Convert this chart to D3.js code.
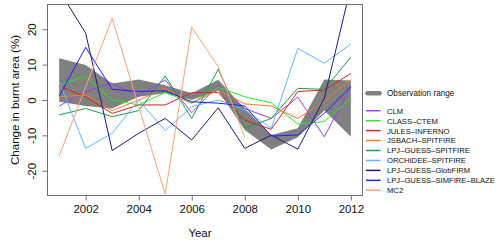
<!DOCTYPE html>
<html lang="en">
<head>
<meta charset="utf-8">
<title>Change in burnt area</title>
<script src="https://d3js.org/d3.v7.min.js"></script>
<style>
body { margin: 0; background: #fff; font-family: "Liberation Sans", Arial, sans-serif; }
</style>
</head>
<body>
<div id="vis"></div>
<script>

/* Data */
/* ==== */

var years = d3.range(2001, 2013);

var obsUpper = [11.8, 9.9, 4.7, 5.8, 4.2, 1.9, 5.7, -2.5, -9.9, -8.0, 5.8, 5.5];
var obsLower = [-0.5, -1.7, -2.4, 0.9, 1.9, 0.0, 2.6, -8.5, -14.0, -10.5, -3.0, -10.4];

var modelNames = ['CLM', 'CLASS–CTEM', 'JULES–INFERNO', 'JSBACH–SPITFIRE',
  'LPJ–GUESS–SPITFIRE', 'ORCHIDEE–SPITFIRE', 'LPJ–GUESS–GlobFIRM',
  'LPJ–GUESS–SIMFIRE–BLAZE', 'MC2'];

var modelColors = ['#a03ef0', '#22ee22', '#dd1f1f', '#f07a2a',
  '#1f9a4f', '#63b8ff', '#1c1c78', '#1f1fff', '#ffa07a'];

var clm      = [-1.7, 2.4, 4.7, 1.1, 5.7, -3.6, 4.2, -2.4, -5.2, 0.8, -10.4, 3.8];
var classCtem = [4.2, 6.8, 0.0, -1.4, 2.1, -0.9, 3.6, 0.9, -0.8, -6.8, -6.1, 0.5];
var jules    = [4.0, 0.9, -3.8, -1.4, -1.4, 2.1, 2.1, -5.7, -8.3, 2.4, 2.8, 7.5];
var jsbach   = [0.9, 1.4, -3.0, 0.0, 3.3, -0.9, 2.8, -1.1, -1.7, -5.2, -0.5, 5.8];
var lpjSpit  = [-4.2, -2.4, -4.7, -3.0, 6.8, -5.2, 8.7, -8.0, -5.2, 3.3, 3.0, 12.1];
var orchidee = [5.2, -13.7, -9.4, 0.0, -8.7, -1.9, 0.0, -2.8, -8.0, 14.6, 10.4, 15.8];
var globfirm = [31.0, 18.9, -14.3, -9.4, -5.2, -11.3, -2.2, -13.7, -9.9, -13.9, 0.5, 32.0];
var simfire  = [1.1, 14.9, 3.0, 2.4, 2.6, -0.5, -0.9, -1.7, -10.2, -9.9, -3.8, 3.8];
var mc2      = [-15.8, 3.7, 23.1, -1.8, -26.6, 20.6, 9.4, -10.6];

var modelValues = [clm, classCtem, jules, jsbach, lpjSpit, orchidee, globfirm, simfire, mc2];

var yTicks = [-20, -10, 0, 10, 20];
var xTicks = [2002, 2004, 2006, 2008, 2010, 2012];


/* SVG and scales */
/* ============== */

var width = 500,
    height = 241;

var plot = { left: 47.5, right: 362.5, top: 4.5, bottom: 195.5 };

var svg = d3.select('#vis')
  .append('svg')
    .attr('width', width)
    .attr('height', height);

var x = d3.scaleLinear()
  .domain([2001 - 0.44, 2012 + 0.44])
  .range([plot.left, plot.right]);

var y = d3.scaleLinear()
  .domain([-27, 27])
  .range([plot.bottom, plot.top]);

svg.append('clipPath').attr('id', 'clip')
  .append('rect')
    .attr('x', plot.left)
    .attr('y', plot.top)
    .attr('width', plot.right - plot.left)
    .attr('height', plot.bottom - plot.top);

var g = svg.append('g').attr('clip-path', 'url(#clip)');

// observation range band
var area = d3.area()
  .x(function(d, i) { return x(years[i]); })
  .y0(function(d, i) { return y(obsLower[i]); })
  .y1(function(d) { return y(d); });

g.append('path')
  .datum(obsUpper)
  .attr('d', area)
  .attr('fill', '#808080');

// model lines
var line = d3.line()
  .x(function(d, i) { return x(years[i]); })
  .y(function(d) { return y(d); });

g.selectAll('.model')
  .data(modelValues)
  .enter().append('path')
    .attr('class', 'model')
    .attr('d', line)
    .attr('fill', 'none')
    .attr('stroke', function(d, i) { return modelColors[i]; })
    .attr('stroke-width', 1);


/* Axes */
/* ==== */

var xAxis = svg.append('g')
  .attr('transform', 'translate(0,' + plot.bottom + ')')
  .call(d3.axisBottom(x).tickValues(xTicks).tickFormat(d3.format('d')).tickSize(5).tickPadding(4));

var yAxis = svg.append('g')
  .attr('transform', 'translate(' + plot.left + ',0)')
  .call(d3.axisLeft(y).tickValues(yTicks).tickSize(5));

[xAxis, yAxis].forEach(function(ax) {
  ax.select('.domain').remove();
  ax.selectAll('line').attr('stroke', '#707070');
  ax.selectAll('text')
    .attr('fill', '#111')
    .style('font-family', '"Liberation Sans", Arial, sans-serif')
    .style('font-size', '11.4px');
});

xAxis.selectAll('text').attr('dy', '0.71em');

yAxis.selectAll('text')
  .attr('x', null).attr('dy', null)
  .attr('text-anchor', 'middle')
  .attr('transform', 'translate(-11.5,0) rotate(-90)')
  .text(function(d) { return d < 0 ? '-' + Math.abs(d) : d; });

svg.append('rect')
  .attr('x', plot.left)
  .attr('y', plot.top)
  .attr('width', plot.right - plot.left)
  .attr('height', plot.bottom - plot.top)
  .attr('fill', 'none')
  .attr('stroke', '#707070')
  .attr('stroke-width', 1);

svg.append('text')
  .attr('x', (plot.left + plot.right) / 2 - 5)
  .attr('y', 237)
  .attr('text-anchor', 'middle')
  .style('font-size', '11.4px')
  .attr('fill', '#111')
  .text('Year');

svg.append('text')
  .attr('transform', 'translate(18.5,' + ((plot.top + plot.bottom) / 2) + ') rotate(-90)')
  .attr('text-anchor', 'middle')
  .style('font-size', '11.6px')
  .attr('fill', '#111')
  .text('Change in burnt area (%)');


/* Legend */
/* ====== */

var legend = svg.append('g').attr('transform', 'translate(366,0)');

legend.append('line')
  .attr('x1', 1.5).attr('x2', 13.5)
  .attr('y1', 93.3).attr('y2', 93.3)
  .attr('stroke', '#808080')
  .attr('stroke-width', 4.5)
  .attr('stroke-linecap', 'round');

legend.append('text')
  .attr('x', 21).attr('y', 96.3)
  .style('font-size', '8.2px')
  .attr('fill', '#111')
  .text('Observation range');

var items = legend.selectAll('.item')
  .data(modelNames)
  .enter().append('g')
    .attr('class', 'item')
    .attr('transform', function(d, i) { return 'translate(0,' + (110.7 + i * 9.95) + ')'; });

items.append('line')
  .attr('x1', 0).attr('x2', 14.5)
  .attr('stroke', function(d, i) { return modelColors[i]; })
  .attr('stroke-width', 1.5);

items.append('text')
  .attr('x', 21).attr('y', 2.9)
  .style('font-size', '7.65px')
  .attr('fill', '#111')
  .text(function(d) { return d; });

</script>
</body>
</html>
